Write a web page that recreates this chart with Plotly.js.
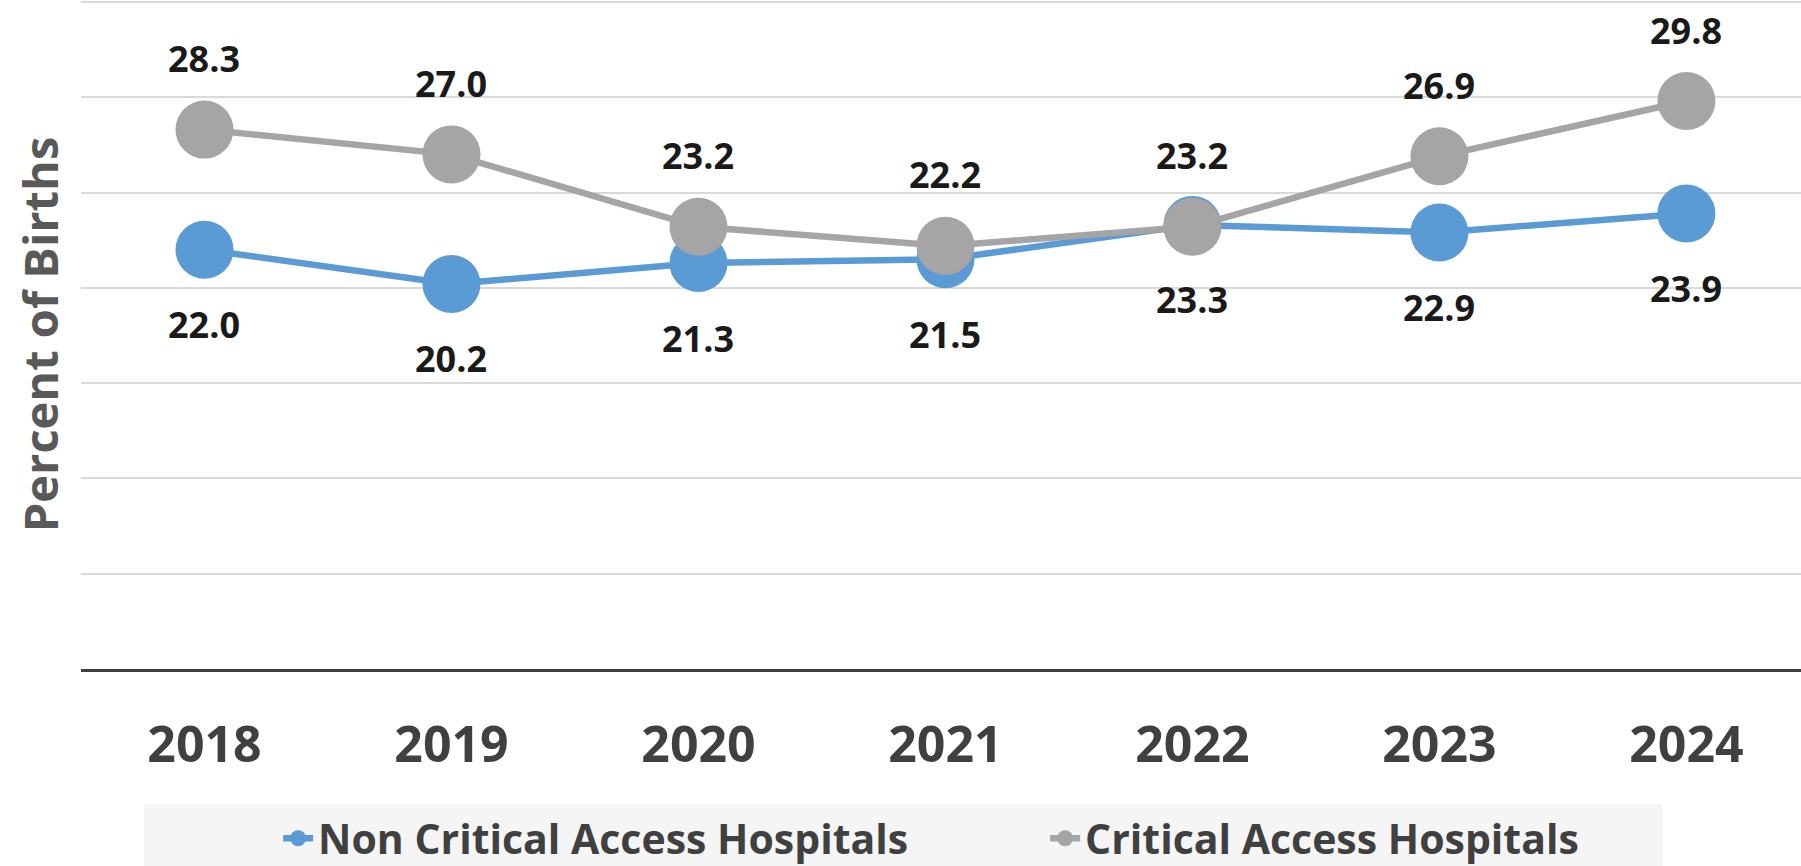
<!DOCTYPE html>
<html>
<head>
<meta charset="utf-8">
<script src="https://cdn.plot.ly/plotly-3.0.1.min.js"></script>
<style>
html, body { margin: 0; padding: 0; background: #ffffff; }
#chart { width: 1801px; height: 866px; }
</style>
</head>
<body>
<div id="chart"></div>
<script>
// Data
const years = ['2018', '2019', '2020', '2021', '2022', '2023', '2024'];
const nonCriticalAccess = [22.0, 20.2, 21.3, 21.5, 23.3, 22.9, 23.9];
const criticalAccess = [28.3, 27.0, 23.2, 22.2, 23.2, 26.9, 29.8];
const seriesNames = ['Non Critical Access Hospitals', 'Critical Access Hospitals'];
const yGridValues = [5, 10, 15, 20, 25, 30, 35];

const BLUE = '#5B9BD5';
const GRAY = '#A5A5A5';
const FONT = 'Open Sans, Lato, sans-serif';

const traces = [
  {
    type: 'scatter', mode: 'lines+markers', name: seriesNames[0],
    x: years, y: nonCriticalAccess,
    line: { color: BLUE, width: 6.5 },
    marker: { color: BLUE, size: 58 },
    hoverinfo: 'skip'
  },
  {
    type: 'scatter', mode: 'lines+markers', name: seriesNames[1],
    x: years, y: criticalAccess,
    line: { color: GRAY, width: 6.5 },
    marker: { color: GRAY, size: 58 },
    hoverinfo: 'skip'
  }
];

const labelFont = { family: FONT, size: 36, color: '#1a1a1a', weight: 'bold' };
const annotations = [];
years.forEach((yr, i) => {
  // category axis: annotations use the category's serial index
  annotations.push({
    x: i, y: criticalAccess[i], xref: 'x', yref: 'y',
    text: criticalAccess[i].toFixed(1), showarrow: false,
    yshift: 71, yanchor: 'middle', xanchor: 'center', font: labelFont
  });
  annotations.push({
    x: i, y: nonCriticalAccess[i], xref: 'x', yref: 'y',
    text: nonCriticalAccess[i].toFixed(1), showarrow: false,
    yshift: -75, yanchor: 'middle', xanchor: 'center', font: labelFont
  });
});

const layout = {
  width: 1801, height: 866,
  margin: { l: 81, r: 0, t: 0, b: 197, autoexpand: false },
  paper_bgcolor: '#ffffff',
  plot_bgcolor: '#ffffff',
  showlegend: true,
  xaxis: {
    type: 'category',
    range: [-0.5, 6.464],
    showgrid: false,
    zeroline: false,
    showline: true, linecolor: '#404040', linewidth: 3,
    ticks: '',
    ticklabelstandoff: 30,
    tickfont: { family: FONT, size: 50, color: '#404040', weight: 'bold' },
    automargin: false,
    fixedrange: true
  },
  yaxis: {
    range: [0, 35.1],
    tickvals: yGridValues,
    showticklabels: false,
    ticks: '',
    showgrid: true, gridcolor: '#d9d9d9', gridwidth: 2,
    zeroline: false,
    showline: false,
    title: {
      text: 'Percent of Births',
      standoff: 6,
      font: { family: FONT, size: 47, color: '#595959', weight: 'bold' }
    },
    automargin: false,
    fixedrange: true
  },
  legend: {
    orientation: 'h',
    x: 0.1146, xanchor: 'left',
    y: -0.2535, yanchor: 'middle',
    bgcolor: 'rgba(0,0,0,0)',
    font: { family: FONT, size: 41, color: '#404040', weight: 'bold' },
    entrywidth: 722,
    itemclick: false, itemdoubleclick: false
  },
  shapes: [
    {
      type: 'rect', xref: 'paper', yref: 'paper', layer: 'below',
      x0: 0.0372, x1: 0.9192, y0: -0.31, y1: -0.2033,
      fillcolor: '#f5f5f5', line: { color: '#efefef', width: 1 }
    }
  ],
  annotations: annotations
};

Plotly.newPlot('chart', traces, layout, { displayModeBar: false, staticPlot: true });
</script>
</body>
</html>
